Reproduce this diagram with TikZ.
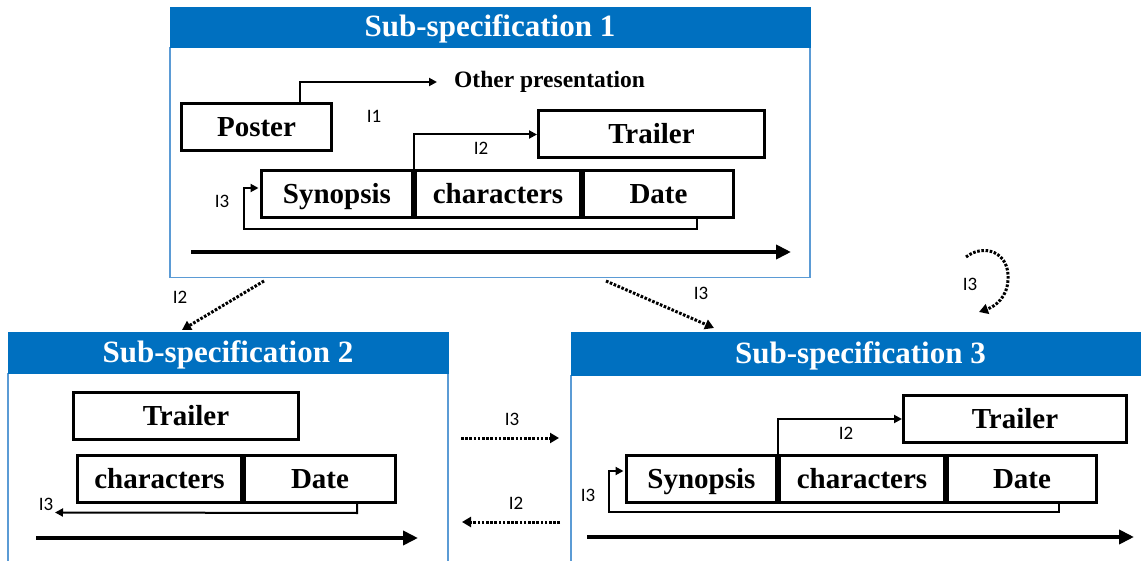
\documentclass[tikz,border=0pt]{standalone}
\usepackage{fontspec}
\setmainfont{Liberation Serif}
\newfontfamily\lblfont{Carlito}
\usetikzlibrary{arrows.meta,calc}
\definecolor{hdrblue}{HTML}{0070C0}
\definecolor{edgeblue}{HTML}{5B9BD5}
\begin{document}
\begin{tikzpicture}[x=1pt,y=-1pt,
  cell/.style={draw, line width=3pt, inner sep=0pt, minimum height=47pt, text height=19pt, text depth=0pt, font=\bfseries\fontsize{29}{29}\selectfont},
  hdr/.style={fill=hdrblue, draw=hdrblue, inner sep=0pt, text=white, text height=20pt, text depth=0pt, font=\bfseries\fontsize{31}{31}\selectfont},
  body/.style={draw=edgeblue, line width=1.5pt, inner sep=0pt},
  lbl/.style={font=\lblfont\fontsize{19}{19}\selectfont, inner sep=0pt},
  conn/.style={line width=2pt, -{Triangle[length=8pt,width=8pt]}},
  timeline/.style={line width=4pt, -{Triangle[length=15pt,width=14pt]}},
  dotarr/.style={line width=3pt, dash pattern=on 2.6pt off 1.6pt, -{Triangle[length=9pt,width=10pt]}},
]
\useasboundingbox (0,0) rectangle (1141,561);
\clip (0,0) rectangle (1141,561);

% ---------- Sub-specification 1 ----------
\node[body, minimum width=640pt, minimum height=230pt, anchor=north] (b1) at (490,47) {};
\node[hdr, minimum width=640pt, minimum height=40pt] (h1) at (490,27) {Sub-specification 1};

\node[cell, minimum width=150pt] (p1) at (256.5,127) {Poster};
\node[cell, minimum width=226pt] (t1) at (651.5,134.5) {Trailer};
\node[cell, minimum width=151pt] (s1) at (337,194) {Synopsis};
\node[cell, minimum width=165pt] (c1) at (498,194) {characters};
\node[cell, minimum width=150pt] (d1) at (658.5,194) {Date};
\node[anchor=west, inner ysep=0pt, inner xsep=17pt, font=\bfseries\fontsize{23.5}{23.5}\selectfont] (other) at (437,82) {Other presentation};

\draw[conn] ([xshift=43pt]p1.north) |- (other.west);
\draw[conn] (s1.north east) |- (t1.west);
\draw[conn] ([xshift=38pt]d1.south) -- ++(0,10) -| ([xshift=-16pt,yshift=6pt]s1.west) -- ([yshift=6pt,xshift=-1.5pt]s1.west);

\node[lbl] (l11) at (374,116) {I1};
\node[lbl] (l12) at (481,148) {I2};
\node[lbl] (l13) at (222,201) {I3};

\coordinate (a1s) at (191,252);
\coordinate (a1e) at (791,252);
\draw[timeline] (a1s) -- (a1e);

% ---------- Sub-specification 2 ----------
\node[body, minimum width=440pt, minimum height=240pt, anchor=north] (b2) at (228,373) {};
\node[hdr, minimum width=440pt, minimum height=41pt] (h2) at (228,352.5) {Sub-specification 2};

\node[cell, minimum width=225pt] (t2) at (186,416) {Trailer};
\node[cell, minimum width=164pt] (c2) at (159.5,479) {characters};
\node[cell, minimum width=151pt] (d2) at (320,479) {Date};

\coordinate (l2e) at (55,512.5);
\draw[conn] ([xshift=37pt]d2.south) -- ++(0,9) -- (l2e);
\node[lbl] (l23) at (46,504) {I3};

\coordinate (a2s) at (36,538);
\coordinate (a2e) at (418,538);
\draw[timeline] (a2s) -- (a2e);

% ---------- Sub-specification 3 ----------
\node[body, minimum width=579pt, minimum height=240pt, anchor=north] (b3) at (860.5,375) {};
\node[hdr, minimum width=579pt, minimum height=43pt] (h3) at (860.5,353.5) {Sub-specification 3};

\node[cell, minimum width=223pt] (t3) at (1015,419) {Trailer};
\node[cell, minimum width=150pt] (s3) at (701.5,479) {Synopsis};
\node[cell, minimum width=165pt] (c3) at (862,479) {characters};
\node[cell, minimum width=149pt] (d3) at (1022,479) {Date};

\draw[conn] (s3.north east) |- (t3.west);
\draw[conn] ([xshift=37pt]d3.south) -- ++(0,8) -| ([xshift=-16pt,yshift=8pt]s3.west) -- ([yshift=8pt,xshift=-1.5pt]s3.west);
\node[lbl] (l32) at (846,433) {I2};
\node[lbl] (l33) at (588,495) {I3};

\coordinate (a3s) at (587,537);
\coordinate (a3e) at (1134,537);
\draw[timeline] (a3s) -- (a3e);

% ---------- links between sub-specifications ----------
\coordinate (x12s) at (264,281);
\coordinate (x12e) at (182,330);
\draw[dotarr] (x12s) -- (x12e);
\node[lbl] (lx12) at (180,297) {I2};

\coordinate (x13s) at (606,281);
\coordinate (x13e) at (714,328);
\draw[dotarr] (x13s) -- (x13e);
\node[lbl] (lx13) at (701,293) {I3};

\coordinate (self3s) at (966,257);
\coordinate (self3m) at (1008,280);
\coordinate (self3e) at (979,312);
\draw[dotarr] (self3s) .. controls (984,243) and (1010,252) .. (self3m) .. controls (1007,297) and (996,306) .. (self3e);
\node[lbl] (lself) at (970,284) {I3};

\coordinate (x23s) at (461,438);
\coordinate (x23e) at (559,438);
\draw[dotarr] (x23s) -- (x23e);
\node[lbl] (lx23) at (512,419) {I3};

\coordinate (x32s) at (560,522);
\coordinate (x32e) at (462,522);
\draw[dotarr] (x32s) -- (x32e);
\node[lbl] (lx32) at (516,503) {I2};
\end{tikzpicture}
\end{document}
